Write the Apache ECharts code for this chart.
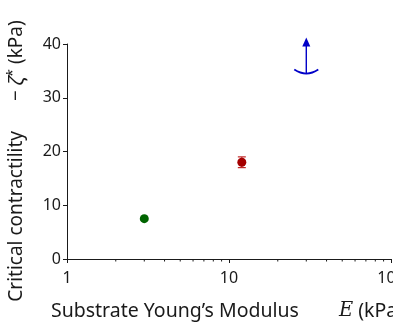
<!DOCTYPE html>
<html lang="en">
<head>
    <meta charset="UTF-8">
    <title>Critical contractility</title>
    <script type="text/javascript" src="https://cdn.jsdelivr.net/npm/echarts@6/dist/echarts.min.js"></script>
    <style>
        html, body { margin: 0; padding: 0; background: #fff; }
    </style>
</head>
<body>
    <div id="main" style="width: 393px; height: 328px;"></div>
    <script type="text/javascript">
        var chartDom = document.getElementById('main');
        var myChart = echarts.init(chartDom);
        var option;

        // measured points [E (kPa), -zeta* (kPa)]
        var greenPoints = [[3, 7.5]];
        var redPoints = [[12, 18]];
        // error bars [E, low, high]
        var redErrors = [[12, 17, 19]];
        // lower bound (arrow up) [E, value]
        var lowerBounds = [[30, 34.5]];
        // log axis minor tick positions
        var minorTicks = [2, 3, 4, 5, 6, 7, 8, 9, 20, 30, 40, 50, 60, 70, 80, 90];

        var axisColor = '#1a1a1a';
        var textColor = '#1a1a1a';
        var font = 'Noto Sans';

        option = {
            animation: false,
            grid: {
                left: 67,
                right: 2,
                top: 44,
                bottom: 69,
                containLabel: false,
                outerBoundsMode: 'none'
            },
            xAxis: {
                type: 'log',
                logBase: 10,
                min: 1,
                max: 100,
                name: 'Substrate Young\u2019s Modulus{e|E} (kPa)',
                nameLocation: 'middle',
                nameGap: 42,
                nameTextStyle: {
                    fontFamily: font,
                    fontSize: 19.5,
                    color: textColor,
                    padding: [0, 4, 0, 0],
                    rich: {
                        e: { fontFamily: 'DejaVu Serif', fontStyle: 'italic', fontSize: 19.5, color: textColor, padding: [0, 0, 0, 40] }
                    }
                },
                axisLine: { show: true, lineStyle: { color: axisColor, width: 1 } },
                axisTick: { show: true, inside: false, length: 4, lineStyle: { color: axisColor } },
                axisLabel: { fontFamily: font, fontSize: 16, color: textColor, margin: 11 },
                splitLine: { show: false }
            },
            yAxis: {
                type: 'value',
                min: 0,
                max: 40,
                interval: 10,
                name: 'Critical contractility{m|\u2212} {i|\u03b6}{s|*} (kPa)',
                nameLocation: 'middle',
                nameGap: 38,
                nameTextStyle: {
                    fontFamily: font,
                    fontSize: 19,
                    color: textColor,
                    padding: [0, 19, 0, 0],
                    rich: {
                        m: { fontFamily: font, fontSize: 19, color: textColor, padding: [0, 0, 0, 30] },
                        i: { fontFamily: font, fontStyle: 'italic', fontSize: 20, color: textColor },
                        s: { fontFamily: font, fontSize: 15, color: textColor, verticalAlign: 'top', padding: [0, 0, 9, 0] }
                    }
                },
                axisLine: { show: true, lineStyle: { color: axisColor, width: 1 } },
                axisTick: { show: true, inside: false, length: 4, lineStyle: { color: axisColor } },
                axisLabel: { fontFamily: font, fontSize: 16, color: textColor, margin: 6 },
                splitLine: { show: false }
            },
            series: [{
                type: 'custom',
                clip: false,
                silent: true,
                data: minorTicks.map(function(v) { return [v, 0]; }),
                renderItem: function(params, api) {
                    var p = api.coord([api.value(0), api.value(1)]);
                    return {
                        type: 'line',
                        shape: { x1: p[0], y1: p[1], x2: p[0], y2: p[1] + 2.5 },
                        style: { stroke: axisColor, lineWidth: 1 }
                    };
                }
            }, {
                type: 'custom',
                silent: true,
                data: redErrors,
                renderItem: function(params, api) {
                    var lo = api.coord([api.value(0), api.value(1)]);
                    var hi = api.coord([api.value(0), api.value(2)]);
                    var w = 4;
                    var st = { stroke: '#c02828', lineWidth: 1.2 };
                    return {
                        type: 'group',
                        children: [
                            { type: 'line', shape: { x1: lo[0], y1: lo[1], x2: hi[0], y2: hi[1] }, style: st },
                            { type: 'line', shape: { x1: lo[0] - w, y1: lo[1], x2: lo[0] + w, y2: lo[1] }, style: st },
                            { type: 'line', shape: { x1: hi[0] - w, y1: hi[1], x2: hi[0] + w, y2: hi[1] }, style: st }
                        ]
                    };
                }
            }, {
                type: 'scatter',
                data: greenPoints,
                symbol: 'circle',
                symbolSize: 9,
                itemStyle: { color: '#006400', opacity: 1 }
            }, {
                type: 'scatter',
                data: redPoints,
                symbol: 'circle',
                symbolSize: 9,
                itemStyle: { color: '#a50000', opacity: 1 }
            }, {
                type: 'custom',
                clip: false,
                silent: true,
                data: lowerBounds,
                renderItem: function(params, api) {
                    var p = api.coord([api.value(0), api.value(1)]);
                    var c = '#0000c8';
                    var x = p[0], y = p[1];
                    return {
                        type: 'group',
                        children: [{
                            type: 'bezierCurve',
                            shape: { x1: x - 12, y1: y - 4, x2: x + 12, y2: y - 4, cpx1: x, cpy1: y + 4 },
                            style: { stroke: c, lineWidth: 1.8, fill: null }
                        }, {
                            type: 'line',
                            shape: { x1: x, y1: y, x2: x, y2: y - 28 },
                            style: { stroke: c, lineWidth: 1.4 }
                        }, {
                            type: 'polygon',
                            shape: { points: [[x, y - 36], [x - 4, y - 27], [x + 4, y - 27]] },
                            style: { fill: c }
                        }]
                    };
                }
            }]
        };

        option && myChart.setOption(option);
    </script>
</body>
</html>
